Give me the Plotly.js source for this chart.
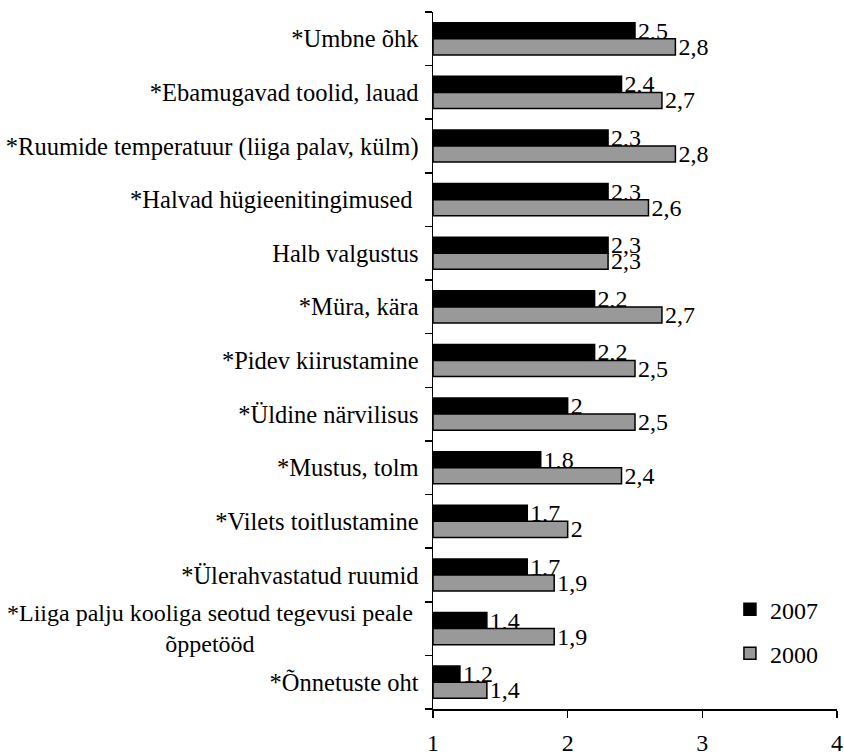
<!DOCTYPE html>
<html>
<head>
<meta charset="utf-8">
<script src="https://cdn.plot.ly/plotly-3.0.1.min.js"></script>
<style>html,body{margin:0;padding:0;background:#fff;}#chart{width:844px;height:756px;}</style>
</head>
<body>
<div id="chart"></div>
<script>
var categories = [
  "*Umbne õhk",
  "*Ebamugavad toolid, lauad",
  "*Ruumide temperatuur (liiga palav, külm)",
  "*Halvad hügieenitingimused ",
  "Halb valgustus",
  "*Müra, kära",
  "*Pidev kiirustamine",
  "*Üldine närvilisus",
  "*Mustus, tolm",
  "*Vilets toitlustamine",
  "*Ülerahvastatud ruumid",
  "*Liiga palju kooliga seotud tegevusi peale õppetööd",
  "*Õnnetuste oht"
];
var values2007 = [2.5, 2.4, 2.3, 2.3, 2.3, 2.2, 2.2, 2.0, 1.8, 1.7, 1.7, 1.4, 1.2];
var values2000 = [2.8, 2.7, 2.8, 2.6, 2.3, 2.7, 2.5, 2.5, 2.4, 2.0, 1.9, 1.9, 1.4];
var seriesNames = ["2007", "2000"];
var xTicks = [1, 2, 3, 4];
var wrappedLabel = "*Liiga palju kooliga seotud tegevusi peale<br>õppetööd";
var wrappedIndex = 11;

function fmt(v){ return String(v).replace('.', ','); }
var font = {family: "Liberation Serif", size: 24.5, color: "#000"};
var fontSmall = {family: "Liberation Serif", size: 24, color: "#000"};

var traces = [
  {type:'bar', orientation:'h', name:seriesNames[0], y:categories,
   x:values2007.map(function(v){return v-1;}), base:1,
   marker:{color:'#000000', line:{color:'#000', width:1.5}},
   text:values2007.map(fmt), textposition:'outside', textfont:fontSmall, constraintext:'none',
   cliponaxis:false, legendgroup:'a', hoverinfo:'skip'},
  {type:'bar', orientation:'h', name:seriesNames[1], y:categories,
   x:values2000.map(function(v){return v-1;}), base:1,
   marker:{color:'#999999', line:{color:'#000', width:1.5}},
   text:values2000.map(fmt), textposition:'outside', textfont:fontSmall, constraintext:'none',
   cliponaxis:false, legendgroup:'b', hoverinfo:'skip'}
];

var tickText = categories.map(function(c, i){ return i === wrappedIndex ? '' : c; });

var layout = {
  width:844, height:756,
  margin:{l:433, r:7, t:12, b:47},
  paper_bgcolor:'#fff', plot_bgcolor:'#fff',
  font:font,
  barmode:'group', bargap:0.4, bargroupgap:0,
  showlegend:true,
  legend:{x:0.735, y:0.175, xanchor:'left', yanchor:'top', font:fontSmall, tracegroupgap:10, bgcolor:'rgba(0,0,0,0)'},
  xaxis:{range:[1,4], tickvals:xTicks, ticktext:xTicks.map(String), showgrid:false, zeroline:false,
    showline:true, linecolor:'#000', linewidth:1.5, ticks:'outside', ticklen:7, tickwidth:1.5, tickcolor:'#000',
    ticklabelstandoff:5, tickfont:fontSmall, fixedrange:true},
  yaxis:{type:'category', autorange:'reversed', showgrid:false, zeroline:false,
    tickvals:categories, ticktext:tickText,
    showline:true, linecolor:'#000', linewidth:1.5, ticks:'outside', tickson:'boundaries', ticklen:7, tickwidth:1.5, tickcolor:'#000',
    ticklabelstandoff:8, tickfont:font, fixedrange:true},
  annotations:[{xref:'paper', yref:'y', x:-0.0446, y:categories[wrappedIndex], xanchor:'right', yanchor:'middle',
    align:'center', text:wrappedLabel, showarrow:false, font:fontSmall}]
};
Plotly.newPlot('chart', traces, layout, {displayModeBar:false, staticPlot:true});
</script>
</body>
</html>
